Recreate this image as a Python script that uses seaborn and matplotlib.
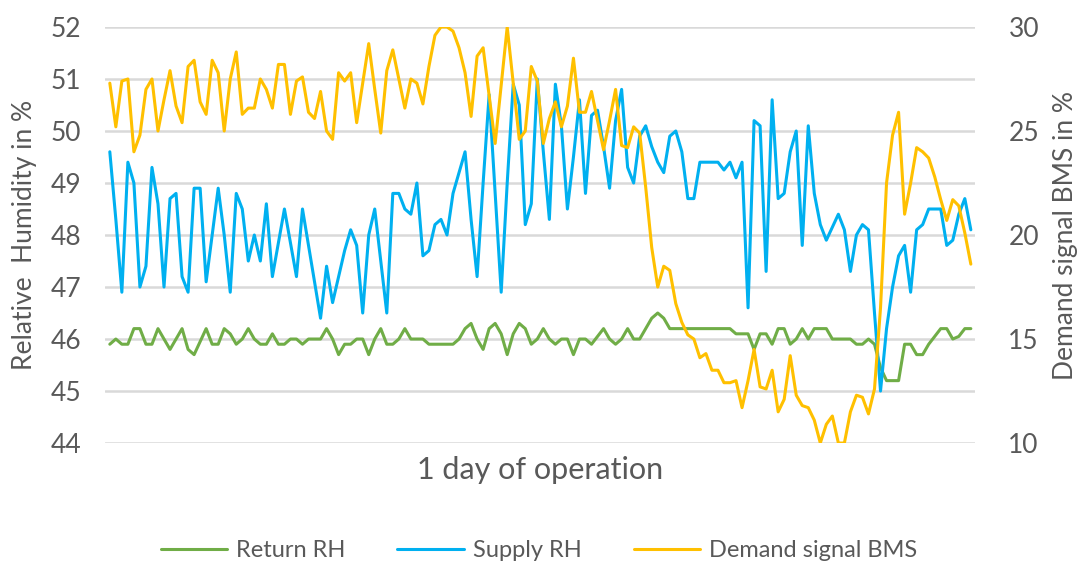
import numpy as np
import pandas as pd
import seaborn as sns
import matplotlib.pyplot as plt

# readings every 10 minutes over one day (144 samples)
return_rh = [
    45.9, 46.0, 45.9, 45.9, 46.2, 46.2, 45.9, 45.9, 46.2, 46.0, 45.8, 46.0, 46.2, 45.8, 45.7, 45.95, 46.2, 45.9, 45.9, 46.2,
    46.1, 45.9, 46.0, 46.2, 46.0, 45.9, 45.9, 46.1, 45.9, 45.9, 46.0, 46.0, 45.9, 46.0, 46.0, 46.0, 46.2, 46.0, 45.7, 45.9,
    45.9, 46.0, 46.0, 45.7, 46.0, 46.2, 45.9, 45.9, 46.0, 46.2, 46.0, 46.0, 46.0, 45.9, 45.9, 45.9, 45.9, 45.9, 46.0, 46.2,
    46.3, 46.0, 45.8, 46.2, 46.3, 46.1, 45.7, 46.1, 46.3, 46.2, 45.9, 46.0, 46.2, 46.0, 45.9, 46.0, 46.0, 45.7, 46.0, 46.0,
    45.9, 46.05, 46.2, 46.0, 45.9, 46.0, 46.2, 46.0, 46.0, 46.2, 46.4, 46.5, 46.4, 46.2, 46.2, 46.2, 46.2, 46.2, 46.2, 46.2,
    46.2, 46.2, 46.2, 46.2, 46.1, 46.1, 46.1, 45.8, 46.1, 46.1, 45.9, 46.2, 46.2, 45.9, 46.0, 46.2, 46.0, 46.2, 46.2, 46.2,
    46.0, 46.0, 46.0, 46.0, 45.9, 45.9, 46.0, 45.9, 45.45, 45.2, 45.2, 45.2, 45.9, 45.9, 45.7, 45.7, 45.9, 46.05, 46.2, 46.2,
    46.0, 46.05, 46.2, 46.2,
]

supply_rh = [
    49.6, 48.3, 46.9, 49.4, 49.0, 47.0, 47.4, 49.3, 48.6, 47.0, 48.7, 48.8, 47.2, 46.9, 48.9, 48.9, 47.1, 48.0, 48.9, 48.0,
    46.9, 48.8, 48.5, 47.5, 48.0, 47.5, 48.6, 47.2, 47.85, 48.5, 47.85, 47.2, 48.5, 47.8, 47.1, 46.4, 47.4, 46.7, 47.2, 47.7,
    48.1, 47.8, 46.5, 48.0, 48.5, 47.5, 46.5, 48.8, 48.8, 48.5, 48.4, 49.0, 47.6, 47.7, 48.2, 48.3, 48.0, 48.8, 49.2, 49.6,
    48.3, 47.2, 49.0, 50.7, 48.8, 46.9, 49.0, 50.9, 50.5, 48.2, 48.6, 51.0, 49.6, 48.3, 50.9, 50.1, 48.5, 49.5, 50.6, 48.8,
    50.3, 50.4, 49.7, 48.9, 50.2, 50.8, 49.3, 49.0, 49.9, 50.1, 49.7, 49.4, 49.2, 49.9, 50.0, 49.6, 48.7, 48.7, 49.4, 49.4,
    49.4, 49.4, 49.25, 49.4, 49.1, 49.4, 46.6, 50.2, 50.1, 47.3, 50.6, 48.7, 48.8, 49.6, 50.0, 47.8, 50.1, 48.8, 48.2, 47.9,
    48.15, 48.4, 48.1, 47.3, 48.0, 48.2, 48.1, 46.5, 45.0, 46.2, 47.0, 47.6, 47.8, 46.9, 48.1, 48.2, 48.5, 48.5, 48.5, 47.8,
    47.9, 48.4, 48.7, 48.1,
]

demand_bms = [
    27.3, 25.2, 27.4, 27.5, 24.0, 24.8, 27.0, 27.5, 25.0, 26.5, 27.9, 26.2, 25.4, 28.1, 28.4, 26.4, 25.8, 28.4, 27.8, 25.0,
    27.5, 28.8, 25.8, 26.1, 26.1, 27.5, 27.0, 26.1, 28.2, 28.2, 25.8, 27.4, 27.6, 25.9, 25.6, 26.9, 25.0, 24.6, 27.8, 27.4,
    27.8, 25.4, 27.3, 29.2, 27.0, 24.9, 27.9, 28.9, 27.5, 26.1, 27.5, 27.3, 26.3, 28.1, 29.6, 30.0, 30.0, 29.8, 29.0, 27.8,
    25.7, 28.6, 29.0, 26.7, 24.4, 27.2, 30.0, 27.3, 24.6, 25.0, 28.1, 27.4, 24.4, 25.6, 26.4, 25.2, 26.2, 28.5, 25.9, 25.9,
    26.9, 25.5, 24.1, 25.5, 27.0, 24.3, 24.2, 25.2, 24.9, 22.3, 19.4, 17.5, 18.5, 18.3, 16.7, 15.8, 15.2, 15.0, 14.1, 14.3,
    13.5, 13.5, 12.9, 12.9, 13.0, 11.7, 13.0, 14.5, 12.7, 12.6, 13.5, 11.5, 12.1, 14.2, 12.3, 11.8, 11.7, 11.1, 10.0, 10.9,
    11.3, 10.0, 10.0, 11.5, 12.3, 12.2, 11.4, 12.6, 16.5, 22.5, 24.8, 25.9, 21.0, 22.5, 24.2, 24.0, 23.7, 22.8, 21.7, 20.7,
    21.7, 21.4, 20.1, 18.6,
]

rh_ticks = [44, 45, 46, 47, 48, 49, 50, 51, 52]
bms_ticks = [10, 15, 20, 25, 30]

df = pd.DataFrame({
    "step": np.arange(len(return_rh)),
    "Return RH": return_rh,
    "Supply RH": supply_rh,
    "Demand signal BMS": demand_bms,
})

sns.set_style("white")
plt.rcParams["font.family"] = ["Lato", "DejaVu Sans"]
grey = "#595959"

fig = plt.figure(figsize=(10.78, 5.68), dpi=100)
ax = fig.add_axes([0.0974, 0.220, 0.8071, 0.7325])
ax2 = ax.twinx()

sns.lineplot(data=df, x="step", y="Return RH", color="#70ad47", lw=2.2, ax=ax, label="Return RH", legend=False)
sns.lineplot(data=df, x="step", y="Supply RH", color="#00b0f0", lw=2.2, ax=ax, label="Supply RH", legend=False)
sns.lineplot(data=df, x="step", y="Demand signal BMS", color="#ffc000", lw=2.2, ax=ax2,
             label="Demand signal BMS", legend=False)

ax.set_xlim(-0.8, len(return_rh) - 0.3)
ax.set_ylim(44, 52)
ax2.set_ylim(10, 30)
ax.set_yticks(rh_ticks)
ax2.set_yticks(bms_ticks)
ax.set_xticks([])
ax.grid(axis="y", color="#d9d9d9", lw=1.8)
ax.set_axisbelow(True)
ax.set_zorder(ax2.get_zorder() - 1)
ax.patch.set_visible(False)
ax2.patch.set_visible(False)

for a in (ax, ax2):
    for s in a.spines.values():
        s.set_visible(False)
    a.tick_params(axis="y", length=0, labelsize=19, colors=grey)
ax.tick_params(axis="y", pad=17)
ax2.tick_params(axis="y", pad=24)

ax.set_ylabel("Relative  Humidity in %", fontsize=19, color=grey, labelpad=10)
ax2.set_ylabel("Demand signal BMS in %", fontsize=19, color=grey, labelpad=10)
ax.set_xlabel("1 day of operation", fontsize=22, color=grey, labelpad=9)

handles = ax.get_lines()[:2] + ax2.get_lines()[:1]
fig.legend(handles, ["Return RH", "Supply RH", "Demand signal BMS"], loc="center",
           bbox_to_anchor=(0.5, 0.030), ncol=3, frameon=False, fontsize=17,
           handlelength=2.8, handletextpad=0.4, columnspacing=2.2, labelcolor=grey)

fig.savefig("out.png", dpi=100)
